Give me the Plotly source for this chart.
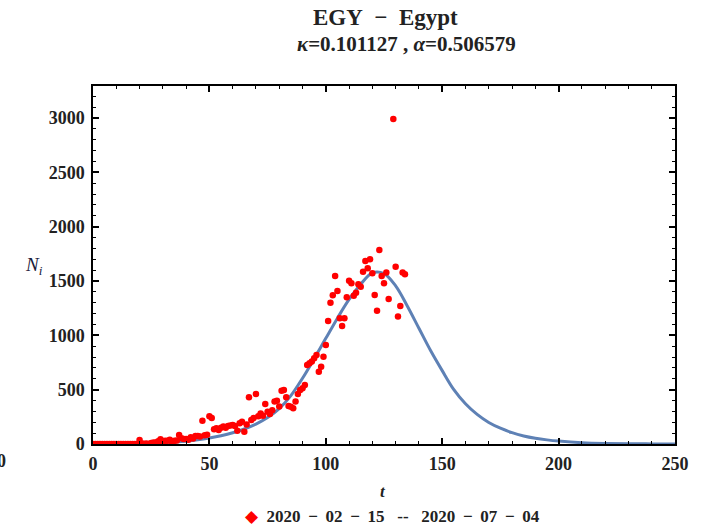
import plotly.graph_objects as go

# ---- data ----
days = list(range(0, 135))
cases = [0, 0, 0, 0, 0, 0, 0, 0, 0, 0,
         0, 0, 0, 0, 1, 0, 0, 0, 0, 1,
         37, 5, 3, 4, 1, 9, 13, 13, 26, 43,
         17, 30, 30, 40, 14, 29, 33, 83, 52, 45,
         45, 40, 62, 50, 74, 74, 70, 215, 80, 85,
         255, 240, 135, 144, 128, 150, 160, 150, 165, 170,
         175, 165, 122, 190, 205, 113, 180, 430, 221, 240,
         460, 255, 280, 260, 368, 297, 276, 310, 390, 398,
         345, 490, 497, 430, 350, 343, 328, 390, 460, 497,
         512, 543, 727, 742, 760, 789, 819, 665, 711, 803,
         911, 1132, 1300, 1368, 1546, 1408, 1157, 1086, 1157, 1350,
         1503, 1479, 1365, 1392, 1470, 1448, 1586, 1684, 1617, 1700,
         1571, 1371, 1227, 1785, 1546, 1479, 1577, 1334, None, 2991,
         1632, 1172, 1270, 1577, 1562]

t_curve = [0, 5, 10, 15, 20, 25, 30, 35, 40, 45, 50, 55, 60, 65, 70, 75, 80, 85,
           90, 95, 100, 105, 110, 115, 120, 125, 130, 135, 140, 145, 150, 155,
           160, 165, 170, 175, 180, 185, 190, 195, 200, 210, 220, 230, 240, 250]
n_curve = [0, 1, 2, 3, 5, 8, 12, 18, 26, 38, 55, 76, 103, 138, 183, 243, 325, 445,
           605, 785, 972, 1158, 1330, 1470, 1575, 1568, 1455, 1270, 1065, 860, 675, 500,
           370, 272, 198, 145, 104, 74, 53, 38, 27, 12, 5, 2, 1, 0]

NB = "\u00a0"
TH = "\u2009"
MINUS = NB * 2 + "\u2212" + NB * 2
MINUS_L = NB + TH + "\u2212" + NB + TH
title_line1 = "EGY" + MINUS + "Egypt"
title_line2 = "<i>\u03ba</i>=0.101127" + NB + "," + NB + "<i>\u03b1</i>=0.506579"
legend_text = ("2020" + MINUS_L + "02" + MINUS_L + "15" + NB * 3 + "--" + NB * 3 +
               "2020" + MINUS_L + "07" + MINUS_L + "04")
x_ticks = [0, 50, 100, 150, 200, 250]
y_ticks = [0, 500, 1000, 1500, 2000, 2500, 3000]

FONT = "Liberation Serif"
TXT = "#222222"

fig = go.Figure()
fig.add_trace(go.Scatter(x=t_curve, y=n_curve, mode="lines",
                         line=dict(color="#5E81B5", width=3, shape="spline", smoothing=1.0),
                         showlegend=False, hoverinfo="skip"))
fig.add_trace(go.Scatter(x=days, y=cases, mode="markers",
                         marker=dict(color="#FF0000", size=6.5),
                         showlegend=False))

axis_common = dict(showline=True, linecolor="black", linewidth=1.5, mirror="allticks",
                   ticks="inside", ticklen=6, tickwidth=1.5, tickcolor="black",
                   showgrid=False, zeroline=False,
                   tickfont=dict(family=FONT, size=18, color=TXT))

fig.update_xaxes(range=[0, 250], tickvals=x_ticks, ticktext=["<b>%d</b>" % v for v in x_ticks],
                 minor=dict(dtick=10, ticks="inside", ticklen=3.5, tickwidth=1.2, tickcolor="black"),
                 ticklabelstandoff=3,
                 **axis_common)
fig.update_yaxes(range=[0, 3294], tickvals=y_ticks, ticktext=["<b>%d</b>" % v for v in y_ticks],
                 minor=dict(dtick=100, ticks="inside", ticklen=3.5, tickwidth=1.2, tickcolor="black"),
                 ticklabelstandoff=3,
                 **axis_common)

PW, PH = 582.0, 358.0
def px(xp): return (xp - 93) / PW
def py(yp): return (444 - yp) / PH

annotations = [
    dict(text="<b>" + title_line1 + "</b>", x=px(385), y=py(17), font=dict(size=23)),
    dict(text="<b>" + title_line2 + "</b>", x=px(406), y=py(44), font=dict(size=21)),
    dict(text="<i>N<sub>i</sub></i>", x=px(34), y=py(266), font=dict(size=19, color="#1a1a3a")),
    dict(text="<b><i>t</i></b>", x=px(383), y=py(491), font=dict(size=17)),
    dict(text="<span style='color:#FF0000'>\u25c6</span>" + NB * 2 + "<b>" + legend_text + "</b>",
         x=px(392), y=py(516), font=dict(size=17)),
    dict(text="<b>0</b>", x=px(1), y=py(461), font=dict(size=18)),
]
for a in annotations:
    a.update(xref="paper", yref="paper", showarrow=False, xanchor="center", yanchor="middle")
    a["font"].setdefault("color", TXT)
    a["font"].update(family=FONT)

fig.update_layout(width=706, height=527,
                  margin=dict(l=93, r=31, t=86, b=83),
                  paper_bgcolor="white", plot_bgcolor="white",
                  annotations=annotations, showlegend=False)

fig.write_html("out.html")
